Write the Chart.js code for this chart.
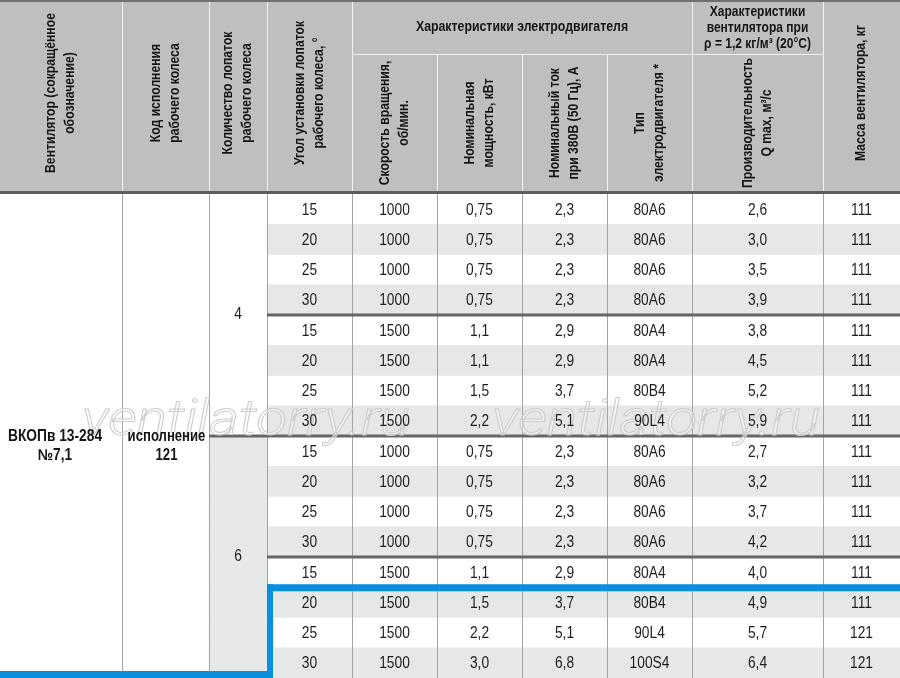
<!DOCTYPE html>
<html>
<head>
<meta charset="utf-8">
<script src="https://cdn.jsdelivr.net/npm/chart.js@4/dist/chart.umd.min.js"></script>
<style>
  html, body { margin: 0; padding: 0; background: #fff; }
  canvas { display: block; }
</style>
</head>
<body>
<canvas id="myChart" width="900" height="678"></canvas>
<script>
// table values, one entry per body row
const angles  = [15, 20, 25, 30, 15, 20, 25, 30, 15, 20, 25, 30, 15, 20, 25, 30];
const speeds  = [1000, 1000, 1000, 1000, 1500, 1500, 1500, 1500, 1000, 1000, 1000, 1000, 1500, 1500, 1500, 1500];
const power   = [0.75, 0.75, 0.75, 0.75, 1.1, 1.1, 1.5, 2.2, 0.75, 0.75, 0.75, 0.75, 1.1, 1.5, 2.2, 3.0];
const current = [2.3, 2.3, 2.3, 2.3, 2.9, 2.9, 3.7, 5.1, 2.3, 2.3, 2.3, 2.3, 2.9, 3.7, 5.1, 6.8];
const motors  = ['80A6', '80A6', '80A6', '80A6', '80A4', '80A4', '80B4', '90L4', '80A6', '80A6', '80A6', '80A6', '80A4', '80B4', '90L4', '100S4'];
const flow    = [2.6, 3.0, 3.5, 3.9, 3.8, 4.5, 5.2, 5.9, 2.7, 3.2, 3.7, 4.2, 4.0, 4.9, 5.7, 6.4];
const mass    = [111, 111, 111, 111, 111, 111, 111, 111, 111, 111, 111, 111, 111, 111, 121, 121];
const blades  = [{ n: 4, from: 0, to: 7 }, { n: 6, from: 8, to: 15 }];
const fanName = ['ВКОПв 13-284', '№7,1'];
const wheelCode = ['исполнение', '121'];

const headCols = [
  ['Вентилятор (сокращённое', 'обозначение)'],
  ['Код исполнения', 'рабочего колеса'],
  ['Количество лопаток', 'рабочего колеса'],
  ['Угол установки лопаток', 'рабочего колеса, °'],
  ['Скорость вращения,', 'об/мин.'],
  ['Номинальная', 'мощность, кВт'],
  ['Номинальный ток', 'при 380В (50 Гц), А'],
  ['Тип', 'электродвигателя *'],
  ['Производительность', 'Q max, м³/с'],
  ['Масса вентилятора, кг']
];
const groupMotor = ['Характеристики электродвигателя'];
const groupFan = ['Характеристики', 'вентилятора при', 'ρ = 1,2 кг/м³ (20°C)'];

// layout: column edges in px (x scale runs 0..900)
const COL = [0, 122, 209, 267, 352, 437, 522, 607, 692, 823, 900];
const HEAD_H = 194;
const SUB_Y = 54;

const rowLabels = angles.map((_, i) => String(i + 1));

function fmt(v) {
  if (typeof v !== 'number') return v;
  const s = Number.isInteger(v) && v < 10 ? v.toFixed(1) : String(v);
  return s.replace('.', ',');
}

function txt(ctx, s, x, y, font, sx, rot) {
  ctx.save();
  ctx.translate(x, y);
  if (rot) ctx.rotate(-Math.PI / 2);
  ctx.scale(sx, 1);
  ctx.font = font;
  ctx.textAlign = 'center';
  ctx.textBaseline = 'middle';
  ctx.fillText(s, 0, 0);
  ctx.restore();
}

const FONT = "'Liberation Sans', Arial, sans-serif";
const BODY = '16px ' + FONT;
const HEAD = 'bold 14px ' + FONT;

const tablePlugin = {
  id: 'table',
  beforeDraw(chart) {
    const ctx = chart.ctx;
    ctx.save();
    // header band
    ctx.fillStyle = '#bebfc1';
    ctx.fillRect(0, 0, 900, HEAD_H - 3);
    ctx.fillStyle = '#6e6e6e';
    ctx.fillRect(0, 0, 900, 2);
    ctx.fillStyle = '#5e5e5e';
    ctx.fillRect(0, HEAD_H - 3, 900, 3);
    ctx.strokeStyle = '#f2f2f2';
    ctx.lineWidth = 1;
    ctx.beginPath();
    [1, 2, 3, 4, 8, 9].forEach(c => { ctx.moveTo(COL[c] + 0.5, 2); ctx.lineTo(COL[c] + 0.5, HEAD_H - 3); });
    [5, 6, 7].forEach(c => { ctx.moveTo(COL[c] + 0.5, SUB_Y); ctx.lineTo(COL[c] + 0.5, HEAD_H - 3); });
    ctx.moveTo(COL[4], SUB_Y + 0.5); ctx.lineTo(COL[9], SUB_Y + 0.5);
    ctx.stroke();

    ctx.fillStyle = '#161616';
    const gap = 19;
    headCols.forEach((lines, c) => {
      const cx = (COL[c] + COL[c + 1]) / 2;
      const cy = (c >= 4 && c <= 8) ? 123 : 93;
      const x0 = cx - (lines.length - 1) * gap / 2;
      lines.forEach((s, k) => txt(ctx, s, x0 + k * gap, cy, HEAD, 0.87, true));
    });
    txt(ctx, groupMotor[0], (COL[4] + COL[8]) / 2, 27, HEAD, 0.88);
    groupFan.forEach((s, k) => txt(ctx, s, (COL[8] + COL[9]) / 2, 12 + k * 16, HEAD, 0.86));
    ctx.restore();
  },
  afterDatasetsDraw(chart) {
    const ctx = chart.ctx;
    const xS = chart.scales.x, yS = chart.scales.y;
    const top = chart.chartArea.top, bottom = chart.chartArea.bottom;
    const edge = i => yS.getPixelForValue(i - 0.5);
    const cx = c => xS.getPixelForValue((COL[c] + COL[c + 1]) / 2);
    ctx.save();

    // vertical rules
    ctx.strokeStyle = '#a4a4a4';
    ctx.lineWidth = 1;
    ctx.beginPath();
    COL.slice(1, 10).forEach(v => {
      const x = Math.round(xS.getPixelForValue(v)) + 0.5;
      ctx.moveTo(x, top); ctx.lineTo(x, bottom);
    });
    ctx.stroke();

    // group separators
    ctx.fillStyle = '#666';
    [[4, 3], [8, 2], [12, 3]].forEach(([r, c]) => {
      const y = edge(r);
      const x = xS.getPixelForValue(COL[c]);
      ctx.fillRect(x, y - 1.5, xS.getPixelForValue(900) - x, 3);
    });

    // watermark
    ctx.font = "italic 300 50px Roboto, sans-serif";
    ctx.textBaseline = 'alphabetic';
    ctx.textAlign = 'left';
    ctx.lineWidth = 1;
    ctx.strokeStyle = '#cdcdcd';
    ctx.fillStyle = 'rgba(255,255,255,0.4)';
    const wm = 'ventilatorry.ru';
    const w = ctx.measureText(wm).width;
    [82, 492].forEach(x0 => {
      ctx.save();
      ctx.translate(xS.getPixelForValue(x0), edge(8) - 1);
      ctx.scale(328 / w, 1);
      ctx.fillText(wm, 0, 0);
      ctx.strokeText(wm, 0, 0);
      ctx.restore();
    });

    // cell values
    ctx.fillStyle = '#1e1e1e';
    const cols = [angles, speeds, power, current, motors, flow, mass];
    angles.forEach((_, i) => {
      const y = yS.getPixelForValue(i) + 1;
      cols.forEach((arr, k) => txt(ctx, fmt(arr[i]), cx(k + 3), y, BODY, 0.86));
    });
    blades.forEach(b => {
      txt(ctx, String(b.n), cx(2), yS.getPixelForValue((b.from + b.to) / 2), BODY, 0.86);
    });
    ctx.fillStyle = '#141414';
    const mid = yS.getPixelForValue(7.5);
    fanName.forEach((s, k) => txt(ctx, s, cx(0) - 6, mid + 1 + k * 19, 'bold 16px ' + FONT, 0.86));
    wheelCode.forEach((s, k) => txt(ctx, s, cx(1) + 1, mid + 1 + k * 19, 'bold 16px ' + FONT, 0.82));

    // blue highlight around the last three rows
    ctx.fillStyle = '#0a8ede';
    const yb = edge(13);
    const xb = xS.getPixelForValue(COL[3]);
    ctx.fillRect(xb, yb - 3, xS.getPixelForValue(900) - xb, 7);
    ctx.fillRect(xb, yb - 3, 6, bottom - yb + 3);
    ctx.fillRect(0, bottom - 7, xb + 6, 7);
    ctx.restore();
  }
};

const shadeRows = angles.map((_, i) => i % 2 ? [COL[3], COL[10]] : null);
const shadeSix = angles.map((_, i) => i >= blades[1].from ? [COL[2], COL[3]] : null);

new Chart(document.getElementById('myChart'), {
  type: 'bar',
  data: {
    labels: rowLabels,
    datasets: [
      { label: 'rows', data: shadeRows, backgroundColor: '#e6e7e7' },
      { label: 'six', data: shadeSix, backgroundColor: '#e6e7e7' }
    ]
  },
  options: {
    indexAxis: 'y',
    responsive: false,
    animation: false,
    events: [],
    layout: { padding: { top: HEAD_H, left: 0, right: 0, bottom: 0 } },
    datasets: { bar: { grouped: false, barPercentage: 1, categoryPercentage: 1, borderWidth: 0 } },
    scales: {
      x: { type: 'linear', min: 0, max: 900, display: false },
      y: { display: false }
    },
    plugins: { legend: { display: false }, tooltip: { enabled: false } }
  },
  plugins: [tablePlugin]
});
</script>
</body>
</html>
